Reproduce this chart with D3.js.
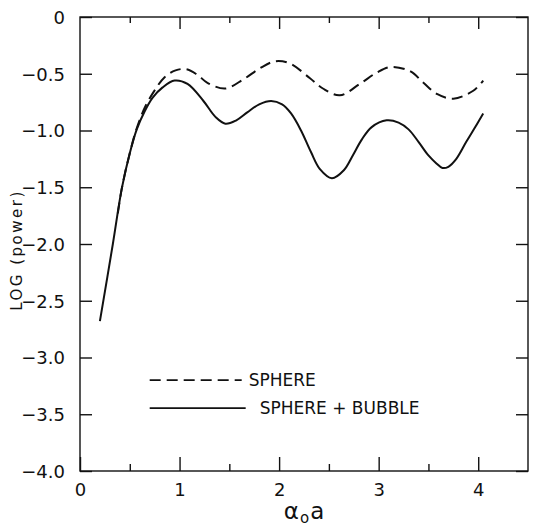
<!DOCTYPE html>
<html>
<head>
<meta charset="utf-8">
<script src="https://cdn.jsdelivr.net/npm/d3@7"></script>
<style>
    body { margin: 0; background: #fff; }
    svg text { font-family: "DejaVu Sans", sans-serif; fill: #111; }
</style>
</head>
<body>
<svg id="chart" width="534" height="530"></svg>
<script>

// données (alpha0*a , log(power))
const sphereBubbleX = [0.20, 0.33, 0.42, 0.50, 0.57, 0.65, 0.73, 0.83, 0.95, 1.08, 1.24, 1.36, 1.46, 1.57, 1.68, 1.80, 1.92, 2.03, 2.12, 2.22, 2.32, 2.41, 2.53, 2.65, 2.74, 2.83, 2.93, 3.08, 3.20, 3.30, 3.40, 3.50, 3.58, 3.64, 3.70, 3.78, 3.88, 3.97, 4.05];
const sphereBubbleY = [-2.68, -2.00, -1.51, -1.20, -0.99, -0.83, -0.71, -0.62, -0.56, -0.59, -0.74, -0.88, -0.94, -0.91, -0.84, -0.77, -0.74, -0.77, -0.85, -1.00, -1.19, -1.34, -1.42, -1.35, -1.22, -1.08, -0.97, -0.91, -0.93, -0.99, -1.10, -1.22, -1.29, -1.33, -1.32, -1.25, -1.10, -0.97, -0.85];

const sphereX = [0.38, 0.42, 0.50, 0.57, 0.65, 0.74, 0.85, 0.96, 1.07, 1.18, 1.28, 1.46, 1.64, 1.81, 1.96, 2.11, 2.31, 2.44, 2.61, 2.81, 2.98, 3.12, 3.32, 3.45, 3.59, 3.75, 3.95, 4.05];
const sphereY = [-1.73, -1.51, -1.20, -0.98, -0.80, -0.66, -0.53, -0.47, -0.46, -0.51, -0.58, -0.63, -0.55, -0.45, -0.39, -0.41, -0.54, -0.63, -0.69, -0.59, -0.49, -0.44, -0.48, -0.58, -0.68, -0.72, -0.65, -0.56];

const xMajorTicks = [0, 1, 2, 3, 4];
const xMinorTicks = [0.5, 1.5, 2.5, 3.5];
const yTicks = [0, -0.5, -1, -1.5, -2, -2.5, -3, -3.5, -4];
const yTickLabels = ['0', '−0.5', '−1.0', '−1.5', '−2.0', '−2.5', '−3.0', '−3.5', '−4.0'];

const legendLabels = ['SPHERE', 'SPHERE + BUBBLE'];


const svg = d3.select('#chart');
const margin = {left: 80, right: 6, top: 17, bottom: 59};
const width = 534 - margin.left - margin.right,
      height = 530 - margin.top - margin.bottom;

const x = d3.scaleLinear().domain([0, 4.5]).range([0, width]);
const y = d3.scaleLinear().domain([-4, 0]).range([height, 0]);

const g = svg.append('g').attr('transform', `translate(${margin.left},${margin.top})`);

// cadre
g.append('rect')
    .attr('width', width).attr('height', height)
    .attr('fill', 'none').attr('stroke', '#111').attr('stroke-width', 1.4);

// axe gauche (ticks vers l'intérieur)
const yAxis = d3.axisLeft(y).tickValues(yTicks).tickSize(-12).tickPadding(15)
    .tickFormat((d, i) => yTickLabels[i]);
const ya = g.append('g').call(yAxis);
ya.select('.domain').remove();
ya.selectAll('line').attr('stroke', '#111').attr('stroke-width', 1.4);
ya.selectAll('text').attr('font-size', 18).attr('dy', '0.36em');

// axe droit
const yr = g.append('g').attr('transform', `translate(${width},0)`)
    .call(d3.axisRight(y).tickValues(yTicks).tickSize(-12).tickFormat(''));
yr.select('.domain').remove();
yr.selectAll('line').attr('stroke', '#111').attr('stroke-width', 1.4);

// axe bas : grands et petits ticks
const xa = g.append('g').attr('transform', `translate(0,${height})`)
    .call(d3.axisBottom(x).tickValues(xMajorTicks).tickSize(-14).tickPadding(20).tickFormat(d3.format('d')));
xa.select('.domain').remove();
xa.selectAll('line').attr('stroke', '#111').attr('stroke-width', 1.4);
xa.selectAll('text').attr('font-size', 18).attr('dy', '0.3em');

const xam = g.append('g').attr('transform', `translate(0,${height})`)
    .call(d3.axisBottom(x).tickValues(xMinorTicks).tickSize(-7).tickFormat(''));
xam.select('.domain').remove();
xam.selectAll('line').attr('stroke', '#111').attr('stroke-width', 1.4);

// axe haut
const xt = g.append('g')
    .call(d3.axisTop(x).tickValues(xMajorTicks.slice(1)).tickSize(-12).tickFormat(''));
xt.select('.domain').remove();
xt.selectAll('line').attr('stroke', '#111').attr('stroke-width', 1.4);
const xtm = g.append('g')
    .call(d3.axisTop(x).tickValues(xMinorTicks).tickSize(-6).tickFormat(''));
xtm.select('.domain').remove();
xtm.selectAll('line').attr('stroke', '#111').attr('stroke-width', 1.4);

// courbes
const line = d3.line()
    .x(d => x(d[0]))
    .y(d => y(d[1]))
    .curve(d3.curveCatmullRom.alpha(0.5));

g.append('path')
    .datum(d3.zip(sphereX, sphereY))
    .attr('d', line)
    .attr('fill', 'none').attr('stroke', '#111').attr('stroke-width', 2)
    .attr('stroke-dasharray', '11,6');

g.append('path')
    .datum(d3.zip(sphereBubbleX, sphereBubbleY))
    .attr('d', line)
    .attr('fill', 'none').attr('stroke', '#111').attr('stroke-width', 2);

// légende
const legend = g.append('g').attr('transform', `translate(${x(0.7)},${y(-3.2)})`);
legend.append('line')
    .attr('x1', 0).attr('x2', 92).attr('y1', 0).attr('y2', 0)
    .attr('stroke', '#111').attr('stroke-width', 1.8).attr('stroke-dasharray', '11,6');
legend.append('text').attr('x', 99).attr('y', 0).attr('dy', '0.36em')
    .attr('font-size', 17).text(legendLabels[0]);
legend.append('line')
    .attr('x1', 0).attr('x2', 96).attr('y1', 28).attr('y2', 28)
    .attr('stroke', '#111').attr('stroke-width', 1.8);
legend.append('text').attr('x', 110).attr('y', 28).attr('dy', '0.36em')
    .attr('font-size', 17).text(legendLabels[1]);

// titres des axes
const xTitle = svg.append('text')
    .attr('x', margin.left + x(2.25))
    .attr('y', 519)
    .attr('text-anchor', 'middle')
    .attr('font-size', 23);
xTitle.append('tspan').text('α');
xTitle.append('tspan').attr('font-size', 15).attr('dy', 4).attr('dx', 1).text('o');
xTitle.append('tspan').attr('dy', -4).attr('dx', 1).text('a');

svg.append('text')
    .attr('transform', `translate(22,${250}) rotate(-90)`)
    .attr('text-anchor', 'middle')
    .attr('font-size', 15)
    .attr('letter-spacing', 2.5)
    .text('LOG (power)');

</script>
</body>
</html>
